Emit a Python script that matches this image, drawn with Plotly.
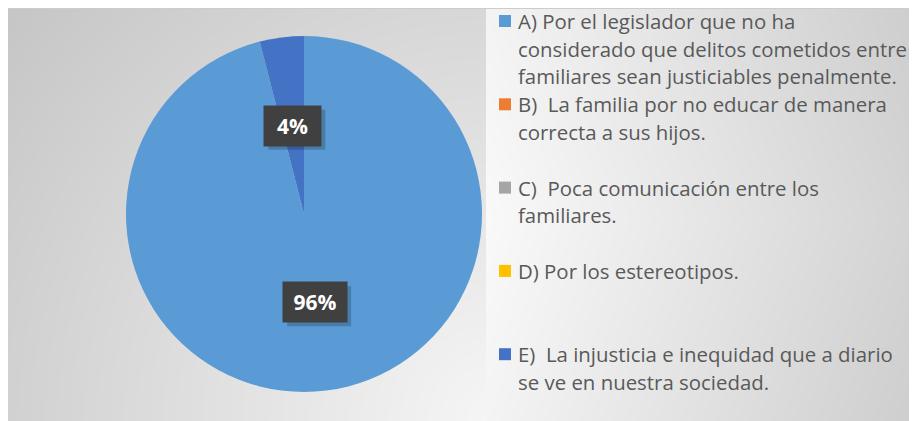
import numpy as np
import plotly.graph_objects as go

# ---- data ----
categories = [
    "A) Por el legislador que no ha considerado que delitos cometidos entre familiares sean justiciables penalmente.",
    "B)  La familia por no educar de manera correcta a sus hijos.",
    "C)  Poca comunicación entre los familiares.",
    "D) Por los estereotipos.",
    "E)  La injusticia e inequidad que a diario se ve en nuestra sociedad.",
]
legend_lines = [
    ["A) Por el legislador que no ha", "considerado que delitos cometidos entre", "familiares sean justiciables penalmente."],
    ["B)  La familia por no educar de manera", "correcta a sus hijos."],
    ["C)  Poca comunicación entre los", "familiares."],
    ["D) Por los estereotipos."],
    ["E)  La injusticia e inequidad que a diario", "se ve en nuestra sociedad."],
]
values = [96, 0, 0, 0, 4]
colors = ["#5B9BD5", "#ED7D31", "#A5A5A5", "#FFC000", "#4472C4"]

# ---- layout constants (page pixels; the page body has an 8px margin) ----
OFF = 8
PW, PH = 917, 421
W, H = PW - OFF, PH - OFF
CX, CY, R = 304, 214, 178
PANEL_X = 488
FONT = "Open Sans"

fig = go.Figure()

# background gradients (style only)
xs = np.linspace(OFF - 4, PANEL_X, 122)
ys = np.linspace(OFF - 4, PH + 12, 110)
XX, YY = np.meshgrid(xs, ys)
d = np.hypot(XX - 500, YY - 421)
zl = 246 - 48 * np.clip(d / 634, 0, 1)
fig.add_trace(go.Heatmap(x=xs, y=ys, z=zl, zmin=0, zmax=255, zsmooth="best",
                         colorscale=[[0, "black"], [1, "white"]], showscale=False,
                         hoverinfo="skip"))
xs2 = np.linspace(PANEL_X, PW + 12, 110)
XX2, YY2 = np.meshgrid(xs2, ys)
zr = 249 - 38 * np.clip((XX2 - PANEL_X) / (PW - PANEL_X), 0, 1) - 6 * np.clip(np.abs(YY2 - 220) / 220, 0, 1)
fig.add_trace(go.Heatmap(x=xs2, y=ys, z=zr, zmin=0, zmax=255, zsmooth="best",
                         colorscale=[[0, "black"], [1, "white"]], showscale=False,
                         hoverinfo="skip"))

fig.add_trace(go.Pie(
    labels=categories, values=values, sort=False, direction="clockwise", rotation=0,
    marker=dict(colors=colors, line=dict(width=0)),
    textinfo="none", showlegend=False, hoverinfo="label+percent",
    domain=dict(x=[(CX - R - OFF) / W, (CX + R - OFF) / W],
                y=[1 - (CY + R - OFF) / H, 1 - (CY - R - OFF) / H]),
))

shapes = [dict(type="line", xref="x", yref="y", x0=OFF, x1=PW, y0=OFF + 0.5, y1=OFF + 0.5,
               line=dict(color="#cccccc", width=1))]
annotations = []

# legend (custom, evenly spaced entries)
L_Y0, L_STEP, L_LINE = 21, 83.3, 27.5
for i, lines in enumerate(legend_lines):
    yc = L_Y0 + i * L_STEP
    shapes.append(dict(type="rect", xref="x", yref="y", x0=499, x1=511, y0=yc - 6, y1=yc + 6,
                       fillcolor=colors[i], line=dict(width=0)))
    for j, t in enumerate(lines):
        annotations.append(dict(xref="x", yref="y", x=516, y=yc + j * L_LINE, text=t,
                                xanchor="left", yanchor="middle", showarrow=False,
                                font=dict(family=FONT, size=20.4, color="#595959")))

# data labels, positioned from the values
total = sum(values)
cum = 0
for v in values:
    if v > 0:
        mid = (cum + v / 2) / total * 2 * np.pi
        lx = CX + 0.5 * R * np.sin(mid)
        ly = CY - 0.5 * R * np.cos(mid)
        txt = f"{round(v / total * 100)}%"
        w = 57 if len(txt) < 3 else 64
        shapes.append(dict(type="rect", xref="x", yref="y",
                           x0=lx - w / 2 + 4, x1=lx + w / 2 + 4, y0=ly - 20 + 4, y1=ly + 20 + 4,
                           fillcolor="rgba(0,0,0,0.2)", line=dict(width=0)))
        annotations.append(dict(xref="x", yref="y", x=lx, y=ly, text=f"<b>{txt}</b>", showarrow=False,
                                width=w, height=40, borderpad=0,
                                bgcolor="#404040", font=dict(size=21, color="white", family=FONT)))
    cum += v

fig.update_layout(
    width=W, height=H, margin=dict(l=0, r=0, t=0, b=0),
    paper_bgcolor="#d6d6d6", plot_bgcolor="#d6d6d6",
    xaxis=dict(range=[OFF, PW], visible=False, fixedrange=True, domain=[0, 1]),
    yaxis=dict(range=[PH, OFF], visible=False, fixedrange=True, domain=[0, 1]),
    shapes=shapes, annotations=annotations, showlegend=False,
)

fig.write_html("out.html", config={"displayModeBar": False})
